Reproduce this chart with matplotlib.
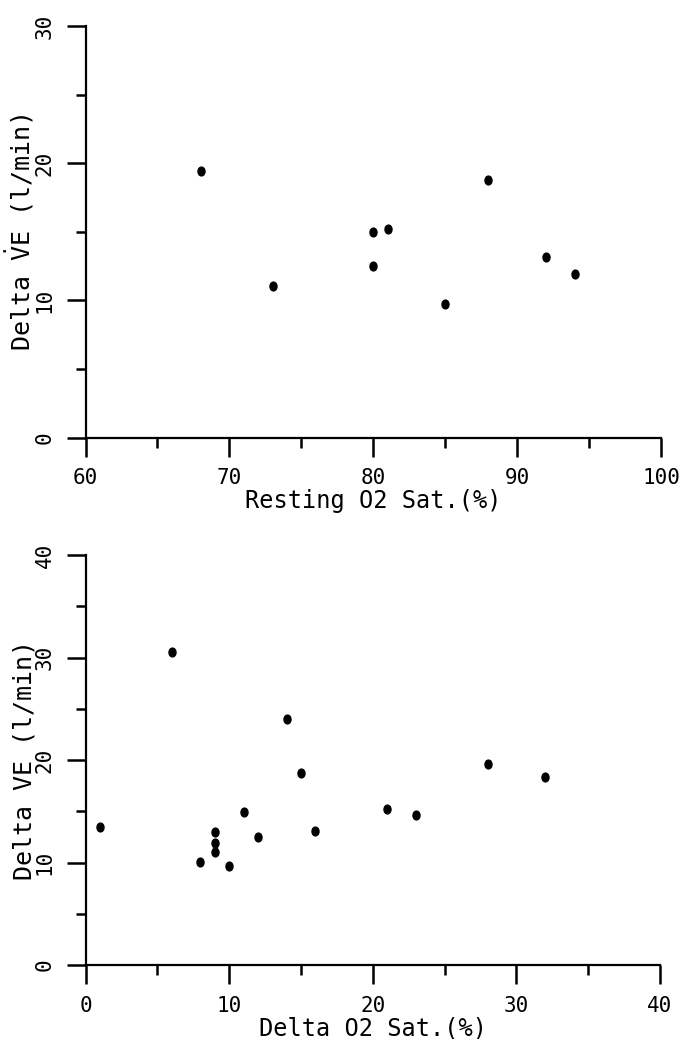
import matplotlib
matplotlib.use("Agg")
import matplotlib.pyplot as plt
from matplotlib.markers import MarkerStyle
from matplotlib.transforms import Affine2D
from matplotlib.ticker import MultipleLocator

# top panel: resting saturation vs change in ventilation
rest_sat = [68, 73, 80, 80, 81, 85, 88, 92, 94]
rest_dve = [19.4, 11.05, 15.0, 12.5, 15.2, 9.75, 18.75, 13.15, 11.95]

# bottom panel: drop in saturation vs change in ventilation
delta_sat = [1, 6, 8, 9, 9, 9, 10, 11, 12, 14, 15, 16, 21, 23, 28, 32]
delta_dve = [13.5, 30.55, 10.05, 13.0, 11.9, 11.05, 9.7, 14.95, 12.5, 24.0,
             18.75, 13.05, 15.2, 14.6, 19.65, 18.3]

top_xticks = [60, 70, 80, 90, 100]
top_yticks = [0, 10, 20, 30]
bot_xticks = [0, 10, 20, 30, 40]
bot_yticks = [0, 10, 20, 30, 40]

plt.rcParams['font.family'] = ['DejaVu Sans Mono']
plt.rcParams['mathtext.fontset'] = 'dejavusans'

fig = plt.figure(figsize=(6.82, 10.39), dpi=100)
ax1 = fig.add_axes([0.1254, 0.5789, 0.8438, 0.3960])
ax2 = fig.add_axes([0.1254, 0.0712, 0.8424, 0.3946])

dot = MarkerStyle('o', transform=Affine2D().scale(0.8, 1.0))


def style_axes(ax, xticks, yticks, xlabel, ylabel):
    ax.set_xlim(xticks[0], xticks[-1])
    ax.set_ylim(yticks[0], yticks[-1])
    ax.spines['top'].set_visible(False)
    ax.spines['right'].set_visible(False)
    for s in ('left', 'bottom'):
        ax.spines[s].set_linewidth(1.6)
    ax.set_xticks(xticks)
    ax.set_yticks(yticks)
    ax.xaxis.set_minor_locator(MultipleLocator((xticks[1] - xticks[0]) / 2))
    ax.yaxis.set_minor_locator(MultipleLocator((yticks[1] - yticks[0]) / 2))
    ax.tick_params(which='major', direction='out', length=14, width=1.8,
                   labelsize=15, pad=8)
    ax.tick_params(which='minor', direction='out', length=7, width=1.8)
    for lab in ax.get_yticklabels():
        lab.set_rotation(90)
        lab.set_va('center')
    ax.set_xlabel(xlabel, fontsize=17, labelpad=1)
    ax.set_ylabel(ylabel, fontsize=18, labelpad=-1)


ax1.scatter(rest_sat, rest_dve, marker=dot, s=40, color='black', clip_on=False)
style_axes(ax1, top_xticks, top_yticks, 'Resting O2 Sat.(%)',
           r'Delta $\dot{\mathtt{V}}$E (l/min)')

ax2.scatter(delta_sat, delta_dve, marker=dot, s=40, color='black', clip_on=False)
style_axes(ax2, bot_xticks, bot_yticks, 'Delta O2 Sat.(%)',
           'Delta VE (l/min)')

fig.savefig('out.png', dpi=100)
